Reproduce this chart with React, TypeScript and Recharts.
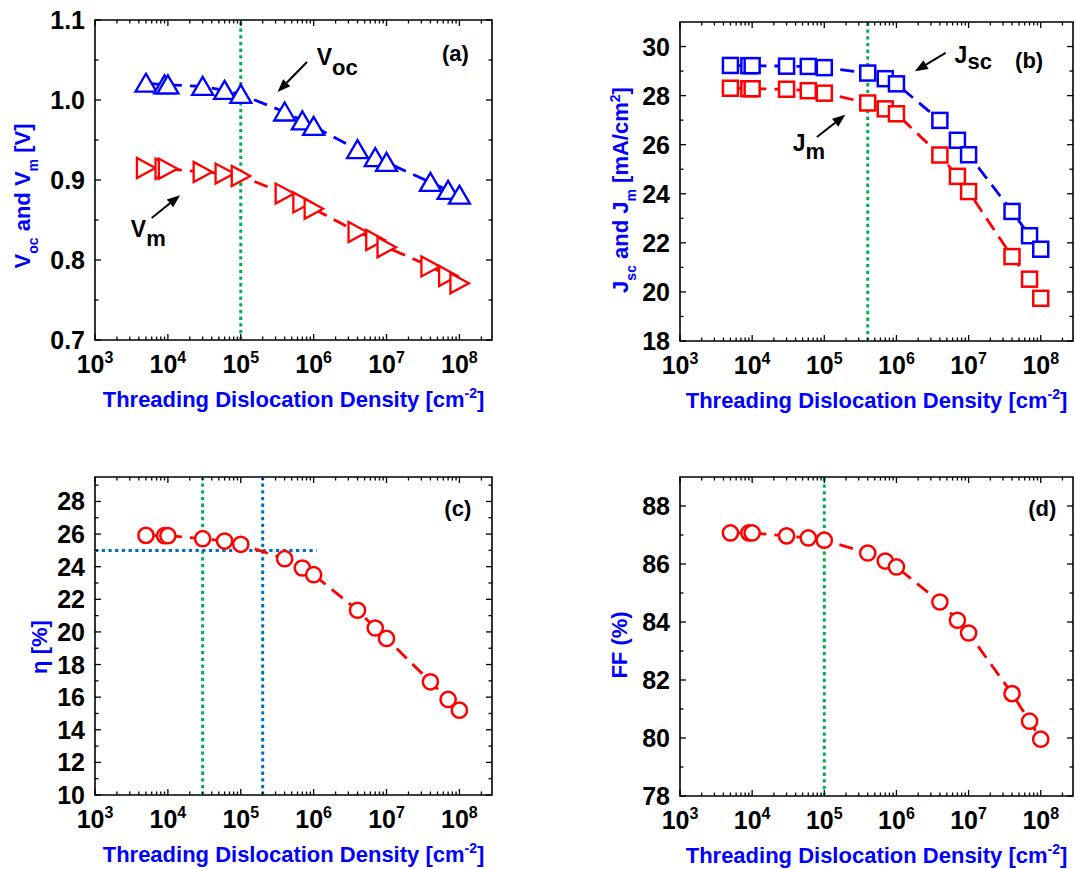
import React from "react";
import { LineChart, Line, XAxis, YAxis, ReferenceLine, ReferenceArea, ReferenceDot } from "recharts";

const FONT = "'Liberation Sans', Arial, Helvetica, sans-serif";
const BLUE = "#0000ff";
const RED = "#ff0000";
const GREEN = "#00b050";
const DOTBLUE = "#0070c0";

// threading dislocation density [cm^-2]
const density = [5e3, 9e3, 1e4, 3e4, 6e4, 1e5, 4e5, 7e5, 1e6, 4e6, 7e6, 1e7, 4e7, 7e7, 1e8];
const voc = [1.021, 1.019, 1.019, 1.017, 1.012, 1.007, 0.985, 0.974, 0.967, 0.938, 0.928, 0.922, 0.897, 0.887, 0.881];
const vm = [0.915, 0.914, 0.914, 0.91, 0.908, 0.905, 0.883, 0.872, 0.864, 0.835, 0.825, 0.816, 0.792, 0.78, 0.771];
const jsc = [29.23, 29.22, 29.22, 29.2, 29.19, 29.14, 28.92, 28.69, 28.48, 26.99, 26.18, 25.59, 23.28, 22.29, 21.74];
const jm = [28.3, 28.28, 28.28, 28.26, 28.2, 28.1, 27.7, 27.46, 27.26, 25.58, 24.71, 24.09, 21.44, 20.52, 19.74];
const eta = [25.92, 25.9, 25.9, 25.72, 25.57, 25.37, 24.49, 23.92, 23.51, 21.33, 20.24, 19.6, 16.94, 15.86, 15.2];
const ff = [87.07, 87.07, 87.07, 86.97, 86.9, 86.82, 86.38, 86.1, 85.9, 84.69, 84.06, 83.62, 81.53, 80.58, 79.96];

const rows = density.map((d, i) => ({ d, voc: voc[i], vm: vm[i], jsc: jsc[i], jm: jm[i], eta: eta[i], ff: ff[i] }));

const X_DOMAIN: [number, number] = [1e3, 2.8e8];
const decades = [1e3, 1e4, 1e5, 1e6, 1e7];
const mantissas = [2, 3, 4, 5, 6, 7, 8, 9];
const xTicks = [...decades.flatMap((d) => [d, ...mantissas.map((m) => m * d)]), 1e8, 2e8];

const makeXTick = (plotH: number) => (props: any) => {
  const { x, y, payload, index } = props;
  const e = Math.log10(payload.value);
  const major = Math.abs(e - Math.round(e)) < 1e-9;
  const len = major ? 6 : 3.5;
  return (
    <g key={index}>
      <line x1={x} y1={y} x2={x} y2={y - len} stroke="#000" strokeWidth={1.3} />
      <line x1={x} y1={y - plotH} x2={x} y2={y - plotH + len} stroke="#000" strokeWidth={1.3} />
      {major && (
        <text x={x} y={y + 33} textAnchor="middle" fontFamily={FONT} fontWeight="bold" fontSize={25} fill="#000">
          10<tspan dy={-10} fontSize={16}>{Math.round(e)}</tspan>
        </text>
      )}
    </g>
  );
};

const makeYTick = (plotW: number, majors: number[], fmt: (v: number) => string) => (props: any) => {
  const { x, y, payload, index } = props;
  const v = payload.value;
  const major = majors.some((m) => Math.abs(m - v) < 1e-9);
  const len = major ? 6 : 3.5;
  return (
    <g key={index}>
      <line x1={x} y1={y} x2={x + len} y2={y} stroke="#000" strokeWidth={1.3} />
      <line x1={x + plotW} y1={y} x2={x + plotW - len} y2={y} stroke="#000" strokeWidth={1.3} />
      {major && (
        <text x={x - 10} y={y} dy="0.36em" textAnchor="end" fontFamily={FONT} fontWeight="bold" fontSize={25} fill="#000">
          {fmt(v)}
        </text>
      )}
    </g>
  );
};

// markers
const triUp = (color: string) => (p: any) =>
  p.cx == null ? null : (
    <path key={p.index} d={`M${p.cx},${p.cy - 9.5} L${p.cx + 10.5},${p.cy + 8.5} L${p.cx - 10.5},${p.cy + 8.5} Z`}
      fill="#fff" stroke={color} strokeWidth={2.3} />
  );
const triRight = (color: string) => (p: any) =>
  p.cx == null ? null : (
    <path key={p.index} d={`M${p.cx + 9.5},${p.cy} L${p.cx - 9},${p.cy - 10} L${p.cx - 9},${p.cy + 10} Z`}
      fill="#fff" stroke={color} strokeWidth={2.3} />
  );
const square = (color: string) => (p: any) =>
  p.cx == null ? null : (
    <rect key={p.index} x={p.cx - 7.5} y={p.cy - 7.5} width={15} height={15} fill="#fff" stroke={color} strokeWidth={2.5} />
  );
const circle = (color: string) => (p: any) =>
  p.cx == null ? null : <circle key={p.index} cx={p.cx} cy={p.cy} r={7.6} fill="#fff" stroke={color} strokeWidth={2.5} />;

const arrow = (p: any) => {
  const { x1, y1, x2, y2 } = p;
  const a = Math.atan2(y2 - y1, x2 - x1);
  const L = 13;
  const W = 5;
  const bx = x2 - L * Math.cos(a);
  const by = y2 - L * Math.sin(a);
  const px = -Math.sin(a) * W;
  const py = Math.cos(a) * W;
  return (
    <g>
      <line x1={x1} y1={y1} x2={bx} y2={by} stroke="#000" strokeWidth={2} />
      <polygon points={`${x2},${y2} ${bx + px},${by + py} ${bx - px},${by - py}`} fill="#000" />
    </g>
  );
};

const note = (main: string, sub: string, dy: number) => (p: any) => (
  <text x={p.cx} y={p.cy} fontFamily={FONT} fontWeight="bold" fontSize={23} fill="#000">
    {main}
    <tspan dy={dy} fontSize={22}>{sub}</tspan>
  </text>
);
const tag = (s: string) => (p: any) => (
  <text x={p.cx} y={p.cy} textAnchor="middle" fontFamily={FONT} fontWeight="bold" fontSize={22} fill="#000">{s}</text>
);

const xTitle = (
  <>
    {"Threading Dislocation Density [cm"}
    <tspan dy={-9} fontSize={14}>-2</tspan>
    <tspan dy={9}>]</tspan>
  </>
);

type PanelProps = {
  left: number;
  top: number;
  width: number;
  height: number;
  plotLeft: number;
  plotTop: number;
  plotRight: number;
  plotBottom: number;
  yDomain: [number, number];
  yMajor: number[];
  yMinor: number[];
  yFmt: (v: number) => string;
  yTitle: React.ReactNode;
  yTitleX: number;
  yTitleY: number;
  children: React.ReactNode;
};

function Panel(p: PanelProps) {
  const plotW = p.plotRight - p.plotLeft;
  const plotH = p.plotBottom - p.plotTop;
  const xMid = (p.plotLeft + p.plotRight) / 2;
  return (
    <div style={{ position: "absolute", left: p.left, top: p.top, width: p.width, height: p.height }}>
      <LineChart width={p.width} height={p.height} data={rows}
        margin={{ top: p.plotTop, right: p.width - p.plotRight, bottom: 0, left: 0 }}>
        <XAxis dataKey="d" type="number" scale="log" domain={X_DOMAIN} allowDataOverflow ticks={xTicks} interval={0}
          tickSize={0} tickMargin={0} axisLine={false} tickLine={false} height={p.height - p.plotBottom}
          tick={makeXTick(plotH)}
          label={{
            content: () => (
              <text x={xMid} y={p.plotBottom + 67} textAnchor="middle" fontFamily={FONT} fontWeight="bold" fontSize={22} fill={BLUE}>
                {xTitle}
              </text>
            ),
          }} />
        <YAxis type="number" domain={p.yDomain} allowDataOverflow ticks={[...p.yMajor, ...p.yMinor]} interval={0}
          tickSize={0} tickMargin={0} axisLine={false} tickLine={false} width={p.plotLeft}
          tick={makeYTick(plotW, p.yMajor, p.yFmt)}
          label={{
            content: () => (
              <text transform={`translate(${p.yTitleX},${p.yTitleY}) rotate(-90)`} textAnchor="middle"
                fontFamily={FONT} fontWeight="bold" fontSize={22} fill={BLUE}>
                {p.yTitle}
              </text>
            ),
          }} />
        <ReferenceArea x1={X_DOMAIN[0]} x2={X_DOMAIN[1]} y1={p.yDomain[0]} y2={p.yDomain[1]}
          fill="none" fillOpacity={0} stroke="#000" strokeWidth={1.6} ifOverflow="visible" />
        {p.children}
      </LineChart>
    </div>
  );
}

const dash = "14 8";
const dotted = "3.3 3.4";

export default function App() {
  return (
    <div style={{ position: "absolute", left: 0, top: 0, width: 1076, height: 869, background: "#fff" }}>
      {/* (a) */}
      <Panel left={0} top={0} width={540} height={430} plotLeft={95} plotTop={20} plotRight={492} plotBottom={340}
        yDomain={[0.7, 1.1]} yMajor={[0.7, 0.8, 0.9, 1.0, 1.1]} yMinor={[0.75, 0.85, 0.95, 1.05]}
        yFmt={(v) => v.toFixed(1)} yTitleX={30} yTitleY={196}
        yTitle={
          <>
            V<tspan dy={8} fontSize={14}>oc</tspan>
            <tspan dy={-8}>{" and V"}</tspan>
            <tspan dy={8} fontSize={14}>m</tspan>
            <tspan dy={-8}>{" [V]"}</tspan>
          </>
        }>
        <ReferenceLine x={1e5} stroke={GREEN} strokeWidth={3} strokeDasharray={dotted} />
        <Line dataKey="voc" stroke={BLUE} strokeWidth={2.8} strokeDasharray={dash} dot={triUp(BLUE)} isAnimationActive={false} />
        <Line dataKey="vm" stroke={RED} strokeWidth={2.8} strokeDasharray={dash} dot={triRight(RED)} isAnimationActive={false} />
        <ReferenceLine segment={[{ x: 8.1e5, y: 1.0475 }, { x: 3.2e5, y: 1.01 }]} shape={arrow} />
        <ReferenceLine segment={[{ x: 6.0e3, y: 0.8525 }, { x: 1.47e4, y: 0.881 }]} shape={arrow} />
        <ReferenceDot x={1.1e6} y={1.044} r={0} shape={note("V", "oc", 10)} />
        <ReferenceDot x={3.1e3} y={0.829} r={0} shape={note("V", "m", 9)} />
        <ReferenceDot x={8.8e7} y={1.049} r={0} shape={tag("(a)")} />
      </Panel>

      {/* (b) */}
      <Panel left={540} top={0} width={536} height={430} plotLeft={140} plotTop={22} plotRight={533} plotBottom={341}
        yDomain={[18, 31]} yMajor={[18, 20, 22, 24, 26, 28, 30]} yMinor={[19, 21, 23, 25, 27, 29]}
        yFmt={(v) => String(v)} yTitleX={88} yTitleY={190}
        yTitle={
          <>
            J<tspan dy={8} fontSize={14}>sc</tspan>
            <tspan dy={-8}>{" and J"}</tspan>
            <tspan dy={8} fontSize={14}>m</tspan>
            <tspan dy={-8}>{" [mA/cm"}</tspan>
            <tspan dy={-8} fontSize={14}>2</tspan>
            <tspan dy={8}>]</tspan>
          </>
        }>
        <ReferenceLine x={4e5} stroke={GREEN} strokeWidth={3} strokeDasharray={dotted} />
        <Line dataKey="jsc" stroke={BLUE} strokeWidth={2.8} strokeDasharray={dash} dot={square(BLUE)} isAnimationActive={false} />
        <Line dataKey="jm" stroke={RED} strokeWidth={2.8} strokeDasharray={dash} dot={square(RED)} isAnimationActive={false} />
        <ReferenceLine segment={[{ x: 4.8e6, y: 29.74 }, { x: 1.8e6, y: 28.99 }]} shape={arrow} />
        <ReferenceLine segment={[{ x: 7.9e4, y: 26.31 }, { x: 1.96e5, y: 27.22 }]} shape={arrow} />
        <ReferenceDot x={6.4e6} y={29.33} r={0} shape={note("J", "sc", 6)} />
        <ReferenceDot x={3.66e4} y={25.73} r={0} shape={note("J", "m", 8)} />
        <ReferenceDot x={6.9e7} y={29.14} r={0} shape={tag("(b)")} />
      </Panel>

      {/* (c) */}
      <Panel left={0} top={440} width={540} height={429} plotLeft={95} plotTop={37} plotRight={492} plotBottom={355}
        yDomain={[10, 29.5]} yMajor={[10, 12, 14, 16, 18, 20, 22, 24, 26, 28]} yMinor={[11, 13, 15, 17, 19, 21, 23, 25, 27, 29]}
        yFmt={(v) => String(v)} yTitleX={47} yTitleY={207}
        yTitle={<>η [%]</>}>
        <ReferenceLine x={3e4} stroke={GREEN} strokeWidth={3} strokeDasharray={dotted} />
        <ReferenceLine x={2e5} stroke={DOTBLUE} strokeWidth={3} strokeDasharray={dotted} />
        <ReferenceLine segment={[{ x: 1e3, y: 25 }, { x: 1.1e6, y: 25 }]} stroke={DOTBLUE} strokeWidth={3} strokeDasharray={dotted} />
        <Line dataKey="eta" stroke={RED} strokeWidth={2.8} strokeDasharray={dash} dot={circle(RED)} isAnimationActive={false} />
        <ReferenceDot x={9.5e7} y={27.12} r={0} shape={tag("(c)")} />
      </Panel>

      {/* (d) */}
      <Panel left={540} top={440} width={536} height={429} plotLeft={140} plotTop={37} plotRight={533} plotBottom={356}
        yDomain={[78, 89]} yMajor={[78, 80, 82, 84, 86, 88]} yMinor={[79, 81, 83, 85, 87]}
        yFmt={(v) => String(v)} yTitleX={87} yTitleY={205}
        yTitle={<>FF (%)</>}>
        <ReferenceLine x={1e5} stroke={GREEN} strokeWidth={3} strokeDasharray={dotted} />
        <Line dataKey="ff" stroke={RED} strokeWidth={2.8} strokeDasharray={dash} dot={circle(RED)} isAnimationActive={false} />
        <ReferenceDot x={1.05e8} y={87.66} r={0} shape={tag("(d)")} />
      </Panel>
    </div>
  );
}
